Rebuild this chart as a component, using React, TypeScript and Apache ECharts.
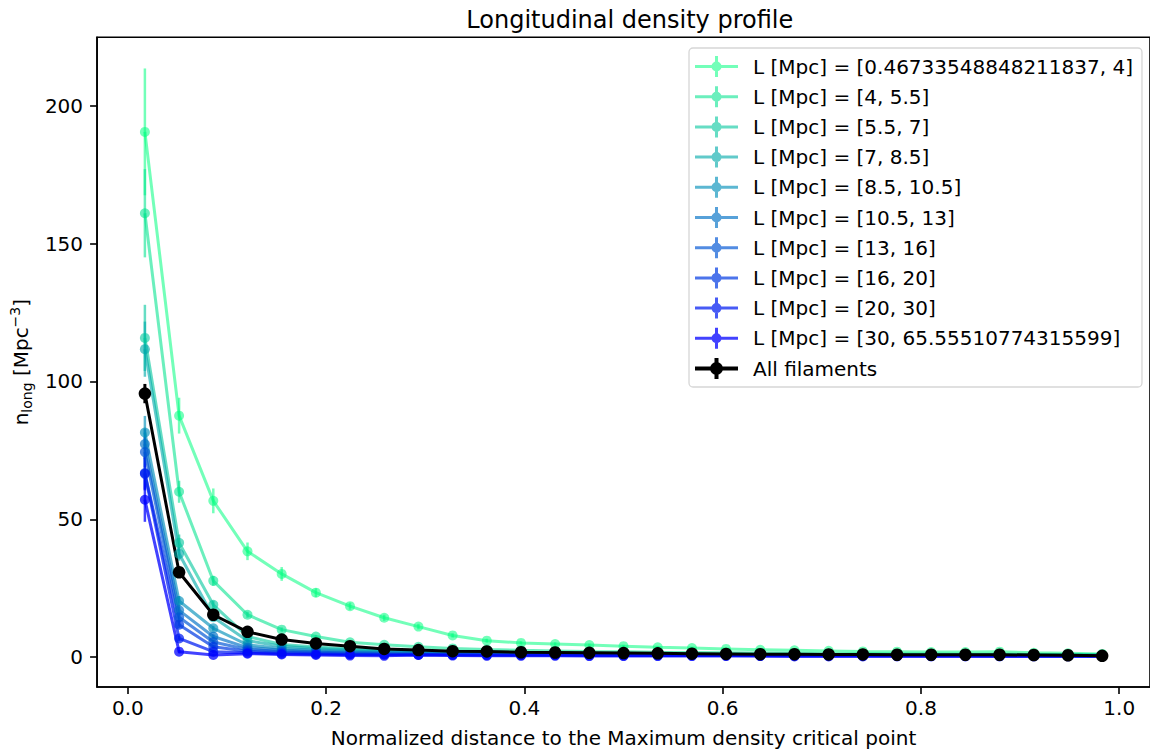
import React, { useEffect, useRef } from 'react';
import * as echarts from 'echarts';

const FONT = 'DejaVu Sans';

const X = [0.0172, 0.0517, 0.0862, 0.1207, 0.1552, 0.1897, 0.2241, 0.2586, 0.2931, 0.3276, 0.3621, 0.3966, 0.4310, 0.4655, 0.5000, 0.5345, 0.5690, 0.6034, 0.6379, 0.6724, 0.7069, 0.7414, 0.7759, 0.8103, 0.8448, 0.8793, 0.9138, 0.9483, 0.9828];

const NAMES = [
  'L [Mpc] = [0.46733548848211837, 4]',
  'L [Mpc] = [4, 5.5]',
  'L [Mpc] = [5.5, 7]',
  'L [Mpc] = [7, 8.5]',
  'L [Mpc] = [8.5, 10.5]',
  'L [Mpc] = [10.5, 13]',
  'L [Mpc] = [13, 16]',
  'L [Mpc] = [16, 20]',
  'L [Mpc] = [20, 30]',
  'L [Mpc] = [30, 65.55510774315599]',
];
const ALL_NAME = 'All filaments';

const S0 = [190.5, 87.6, 56.7, 38.4, 30.2, 23.4, 18.5, 14.3, 11.1, 7.9, 6.0, 5.2, 4.8, 4.4, 4.0, 3.6, 3.3, 3.0, 2.7, 2.5, 2.3, 2.1, 2.0, 1.9, 1.9, 2.0, 1.6, 1.4, 1.2];
const S1 = [161, 60, 27.7, 15.4, 10.0, 7.5, 5.4, 4.5, 3.8, 3.2, 2.8, 2.5, 2.3, 2.1, 2.0, 1.8, 1.7, 1.6, 1.5, 1.4, 1.3, 1.3, 1.2, 1.2, 1.1, 1.1, 1.0, 1.0, 0.9];
const S2 = [115.8, 41.5, 19.0, 7.5, 4.6, 3.7, 3.1, 2.7, 2.3, 2.1, 1.9, 1.7, 1.6, 1.5, 1.4, 1.3, 1.2, 1.2, 1.1, 1.1, 1.0, 1.0, 0.9, 0.9, 0.9, 0.9, 0.8, 0.8, 0.8];
const S3 = [111.7, 37.5, 14.5, 6.0, 4.0, 3.2, 2.7, 2.3, 2.0, 1.8, 1.6, 1.5, 1.4, 1.3, 1.2, 1.1, 1.1, 1.0, 1.0, 0.9, 0.9, 0.9, 0.8, 0.8, 0.8, 0.8, 0.7, 0.7, 0.7];
const S4 = [81.5, 20.4, 10.5, 4.5, 3.2, 2.6, 2.2, 1.9, 1.7, 1.5, 1.4, 1.3, 1.2, 1.1, 1.0, 1.0, 0.9, 0.9, 0.9, 0.8, 0.8, 0.8, 0.7, 0.7, 0.7, 0.7, 0.6, 0.6, 0.6];
const S5 = [77.3, 17.0, 7.5, 3.5, 2.6, 2.1, 1.8, 1.6, 1.4, 1.3, 1.2, 1.1, 1.0, 1.0, 0.9, 0.9, 0.8, 0.8, 0.8, 0.7, 0.7, 0.7, 0.7, 0.6, 0.6, 0.6, 0.6, 0.6, 0.5];
const S6 = [74.4, 14.5, 5.5, 2.8, 2.1, 1.8, 1.5, 1.3, 1.2, 1.1, 1.0, 1.0, 0.9, 0.9, 0.8, 0.8, 0.8, 0.7, 0.7, 0.7, 0.7, 0.6, 0.6, 0.6, 0.6, 0.6, 0.5, 0.5, 0.5];
const S7 = [66.8, 11.8, 3.8, 2.2, 1.7, 1.4, 1.2, 1.1, 1.0, 0.9, 0.9, 0.8, 0.8, 0.8, 0.7, 0.7, 0.7, 0.7, 0.6, 0.6, 0.6, 0.6, 0.6, 0.5, 0.5, 0.5, 0.5, 0.5, 0.5];
const S8 = [66.5, 6.8, 2.0, 1.6, 1.3, 1.1, 1.0, 0.9, 0.8, 0.8, 0.7, 0.7, 0.7, 0.6, 0.6, 0.6, 0.6, 0.6, 0.5, 0.5, 0.5, 0.5, 0.5, 0.5, 0.5, 0.4, 0.4, 0.4, 0.4];
const S9 = [57.1, 2.0, 0.8, 1.3, 1.0, 0.8, 0.6, 0.5, 0.8, 0.6, 0.5, 0.5, 0.5, 0.4, 0.4, 0.4, 0.4, 0.4, 0.4, 0.3, 0.3, 0.3, 0.3, 0.3, 0.3, 0.3, 0.3, 0.3, 0.3];
const ALL = [95.6, 30.8, 15.4, 9.2, 6.4, 5.0, 4.0, 3.0, 2.6, 2.2, 2.1, 1.8, 1.7, 1.6, 1.5, 1.4, 1.3, 1.2, 1.1, 1.1, 1.0, 1.0, 0.9, 0.9, 0.9, 0.9, 0.8, 0.7, 0.5];

const E0 = [23, 6.5, 4.5, 3.2, 2.5, 1.6, 1.3, 1.1, 1.0, 0.8, 0.7, 0.6, 0.6, 0.5, 0.5, 0.5, 0.4, 0.4, 0.4, 0.4, 0.3, 0.3, 0.3, 0.3, 0.3, 0.4, 0.3, 0.3, 0.3];
const E1 = [16, 4, 1.8, 1.1, 0.8, 0.6, 0.5, 0.4, 0.4, 0.3, 0.3, 0.3, 0.3, 0.2, 0.2, 0.2, 0.2, 0.2, 0.2, 0.2, 0.2, 0.2, 0.2, 0.2, 0.2, 0.2, 0.2, 0.2, 0.2];
const E2 = [12, 3, 1.5, 0.8, 0.5, 0.4, 0.3, 0.3, 0.3, 0.2, 0.2, 0.2, 0.2, 0.2, 0.2, 0.2, 0.2, 0.2, 0.2, 0.2, 0.2, 0.2, 0.2, 0.2, 0.2, 0.2, 0.2, 0.2, 0.2];
const E3 = [10, 2.5, 1.2, 0.6, 0.4, 0.3, 0.3, 0.2, 0.2, 0.2, 0.2, 0.2, 0.2, 0.2, 0.2, 0.2, 0.2, 0.2, 0.2, 0.2, 0.2, 0.2, 0.2, 0.2, 0.2, 0.2, 0.2, 0.2, 0.2];
const E4 = [6, 1.8, 0.9, 0.5, 0.3, 0.3, 0.2, 0.2, 0.2, 0.2, 0.2, 0.2, 0.2, 0.2, 0.2, 0.2, 0.2, 0.2, 0.2, 0.2, 0.2, 0.2, 0.2, 0.2, 0.2, 0.2, 0.2, 0.2, 0.2];
const E5 = [5.5, 1.5, 0.8, 0.4, 0.3, 0.2, 0.2, 0.2, 0.2, 0.2, 0.2, 0.2, 0.2, 0.2, 0.2, 0.2, 0.2, 0.2, 0.2, 0.2, 0.2, 0.2, 0.2, 0.2, 0.2, 0.2, 0.2, 0.2, 0.2];
const E6 = [5.5, 1.4, 0.7, 0.4, 0.3, 0.2, 0.2, 0.2, 0.2, 0.2, 0.2, 0.2, 0.2, 0.2, 0.2, 0.2, 0.2, 0.2, 0.2, 0.2, 0.2, 0.2, 0.2, 0.2, 0.2, 0.2, 0.2, 0.2, 0.2];
const E7 = [6, 1.3, 0.6, 0.3, 0.3, 0.2, 0.2, 0.2, 0.2, 0.2, 0.2, 0.2, 0.2, 0.2, 0.2, 0.2, 0.2, 0.2, 0.2, 0.2, 0.2, 0.2, 0.2, 0.2, 0.2, 0.2, 0.2, 0.2, 0.2];
const E8 = [6, 1.0, 0.4, 0.3, 0.2, 0.2, 0.2, 0.2, 0.2, 0.2, 0.2, 0.2, 0.2, 0.2, 0.2, 0.2, 0.2, 0.2, 0.2, 0.2, 0.2, 0.2, 0.2, 0.2, 0.2, 0.2, 0.2, 0.2, 0.2];
const E9 = [8, 0.6, 0.3, 0.3, 0.2, 0.2, 0.2, 0.2, 0.2, 0.2, 0.2, 0.2, 0.2, 0.2, 0.2, 0.2, 0.2, 0.2, 0.2, 0.2, 0.2, 0.2, 0.2, 0.2, 0.2, 0.2, 0.2, 0.2, 0.2];
const EALL = [3.5, 1.2, 0.6, 0.4, 0.3, 0.2, 0.2, 0.2, 0.2, 0.2, 0.2, 0.2, 0.2, 0.2, 0.2, 0.2, 0.2, 0.2, 0.2, 0.2, 0.2, 0.2, 0.2, 0.2, 0.2, 0.2, 0.2, 0.2, 0.2];

const VALUES = [S0, S1, S2, S3, S4, S5, S6, S7, S8, S9];
const ERRORS = [E0, E1, E2, E3, E4, E5, E6, E7, E8, E9];

const COLORS = [
  'rgba(0,255,128,0.55)',
  'rgba(0,227,142,0.58)',
  'rgba(0,198,156,0.6)',
  'rgba(0,170,170,0.62)',
  'rgba(0,142,184,0.64)',
  'rgba(0,113,198,0.66)',
  'rgba(0,85,212,0.68)',
  'rgba(0,57,227,0.7)',
  'rgba(0,28,241,0.72)',
  'rgba(0,0,255,0.74)',
];

const X_TICKS = [0, 0.2, 0.4, 0.6, 0.8, 1.0];
const Y_TICKS = [0, 50, 100, 150, 200];

const ICON = 'path://M0,9L43,9L43,12L0,12Z M20,0L23,0L23,21L20,21Z M26.5,10.5A5,5,0,1,1,16.5,10.5A5,5,0,1,1,26.5,10.5Z';
const ICON_BLACK = 'path://M0,8.5L43,8.5L43,12.5L0,12.5Z M19.5,0L23.5,0L23.5,21L19.5,21Z M28,10.5A6.5,6.5,0,1,1,15,10.5A6.5,6.5,0,1,1,28,10.5Z';

function errSeries(name: string, vals: number[], errs: number[], color: string, width: number) {
  return {
    type: 'custom',
    name: name + ' (err)',
    silent: true,
    data: X.map((x, i) => [x, vals[i], errs[i]]),
    encode: { x: 0, y: 1 },
    renderItem: (params: any, api: any) => {
      const x = api.value(0);
      const y = api.value(1);
      const e = api.value(2);
      const p1 = api.coord([x, y - e]);
      const p2 = api.coord([x, y + e]);
      return {
        type: 'line',
        shape: { x1: p1[0], y1: p1[1], x2: p2[0], y2: p2[1] },
        style: { stroke: color, lineWidth: width },
      };
    },
  };
}

function lineSeries(name: string, vals: number[], color: string, width: number, size: number) {
  return {
    type: 'line',
    name,
    silent: true,
    data: X.map((x, i) => [x, vals[i]]),
    symbol: 'circle',
    symbolSize: size,
    showAllSymbol: true,
    lineStyle: { color, width },
    itemStyle: { color, borderWidth: 0 },
    emphasis: { disabled: true },
  };
}

export default function App() {
  const ref = useRef<HTMLDivElement>(null);
  useEffect(() => {
    if (!ref.current) return;
    const chart = echarts.init(ref.current, null, { renderer: 'svg' });
    const series: any[] = [];
    VALUES.forEach((v, i) => {
      series.push(errSeries(NAMES[i], v, ERRORS[i], COLORS[i], 2.5));
      series.push(lineSeries(NAMES[i], v, COLORS[i], 3, 10));
    });
    series.push(errSeries(ALL_NAME, ALL, EALL, '#000', 3));
    series.push(lineSeries(ALL_NAME, ALL, '#000', 3, 12.5));

    const axisText = { fontSize: 20, color: '#000', fontFamily: FONT };

    chart.setOption({
      animation: false,
      backgroundColor: '#fff',
      title: {
        text: 'Longitudinal density profile',
        left: 624.8,
        top: 3,
        textAlign: 'center',
        textStyle: { fontSize: 24, fontWeight: 'normal', color: '#000', fontFamily: FONT },
      },
      grid: {
        left: 96.4,
        right: -3.2,
        top: 37.3,
        bottom: 63,
        show: true,
        borderColor: '#000',
        borderWidth: 1.6,
        backgroundColor: 'transparent',
      },
      legend: {
        orient: 'vertical',
        left: 689,
        top: 48,
        padding: [8, 9, 8, 6],
        itemWidth: 43,
        itemHeight: 21,
        itemGap: 9.2,
        selectedMode: false,
        backgroundColor: 'rgba(255,255,255,0.8)',
        borderColor: '#d6d6d6',
        borderWidth: 1.3,
        borderRadius: 4,
        textStyle: { fontSize: 20, color: '#000', fontFamily: FONT, padding: [0, 0, 0, 10] },
        data: [
          ...NAMES.map((n, i) => ({ name: n, icon: ICON, itemStyle: { color: COLORS[i], borderWidth: 0 } })),
          { name: ALL_NAME, icon: ICON_BLACK, itemStyle: { color: '#000', borderWidth: 0 } },
        ],
      },
      xAxis: {
        type: 'value',
        min: -0.03103,
        max: 1.03103,
        splitLine: { show: false },
        axisLine: { show: true, onZero: false, lineStyle: { color: '#000', width: 1.6 } },
        axisTick: { show: true, customValues: X_TICKS, length: 7, lineStyle: { color: '#000', width: 1.6 } },
        axisLabel: { customValues: X_TICKS, formatter: (v: number) => v.toFixed(1), margin: 11, ...axisText },
        name: 'Normalized distance to the Maximum density critical point',
        nameLocation: 'middle',
        nameGap: 41,
        nameTextStyle: axisText,
      },
      yAxis: {
        type: 'value',
        min: -10.8,
        max: 224.8,
        splitLine: { show: false },
        axisLine: { show: true, onZero: false, lineStyle: { color: '#000', width: 1.6 } },
        axisTick: { show: true, customValues: Y_TICKS, length: 7, lineStyle: { color: '#000', width: 1.6 } },
        axisLabel: { customValues: Y_TICKS, formatter: (v: number) => String(v), margin: 14, ...axisText },
        name: '{a|n}{b|long}{a| [Mpc}{c|−3}{a|]}',
        nameLocation: 'middle',
        nameRotate: 90,
        nameGap: 57,
        nameTextStyle: {
          ...axisText,
          rich: {
            a: { fontSize: 20, lineHeight: 26, verticalAlign: 'middle', fontFamily: FONT, color: '#000' },
            b: { fontSize: 14, lineHeight: 14, verticalAlign: 'bottom', fontFamily: FONT, color: '#000' },
            c: { fontSize: 14, lineHeight: 14, verticalAlign: 'top', fontFamily: FONT, color: '#000' },
          },
        },
      },
      series,
    });
    return () => chart.dispose();
  }, []);
  return <div ref={ref} style={{ position: 'absolute', left: 0, top: 0, width: 1150, height: 753 }} />;
}
